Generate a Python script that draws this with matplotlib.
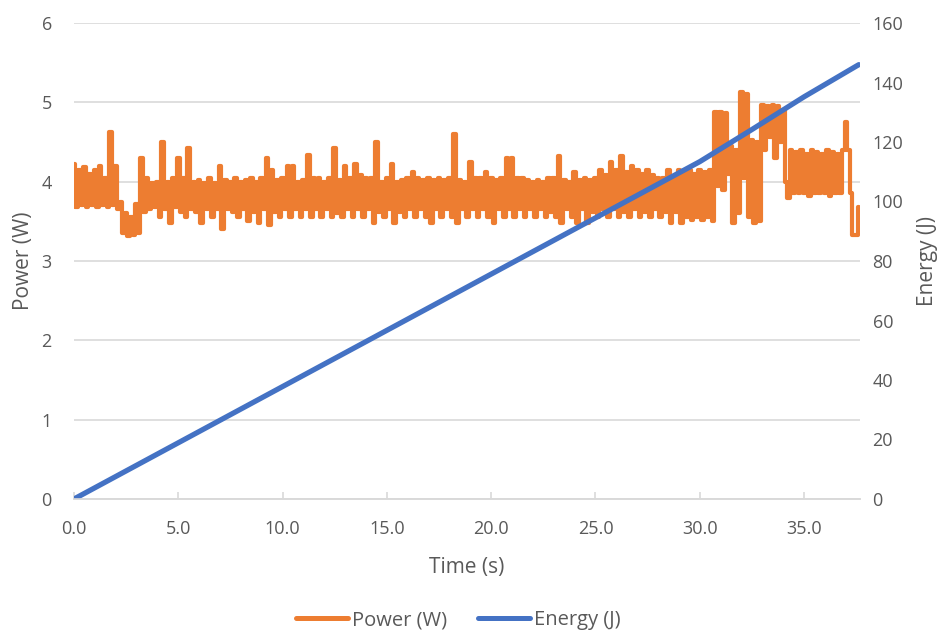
import numpy as np
import matplotlib
matplotlib.use("Agg")
import matplotlib.pyplot as plt
from matplotlib.lines import Line2D

plt.rcParams['font.family'] = ['Open Sans', 'DejaVu Sans']

# Power samples every 0.125 s
sample_dt = 0.125
power = [
    4.22, 3.68, 4.15, 3.70, 4.18, 3.68, 4.10, 3.70,
    4.15, 3.68, 4.20, 3.70, 4.05, 3.68, 4.62, 3.70,
    4.20, 3.65, 3.75, 3.35, 3.60, 3.32, 3.55, 3.33,
    3.72, 3.35, 4.30, 3.62, 4.05, 3.65, 3.98, 3.68,
    4.00, 3.55, 4.50, 3.65, 4.00, 3.48, 4.05, 3.68,
    4.30, 3.62, 4.05, 3.55, 4.42, 3.65, 4.00, 3.62,
    4.02, 3.48, 3.98, 3.66, 4.05, 3.55, 3.98, 3.66,
    4.20, 3.40, 4.02, 3.66, 4.00, 3.62, 4.05, 3.55,
    4.00, 3.66, 4.02, 3.50, 4.05, 3.62, 4.00, 3.48,
    4.05, 3.66, 4.30, 3.45, 4.15, 3.62, 4.02, 3.55,
    4.05, 3.66, 4.20, 3.55, 4.20, 3.66, 4.00, 3.55,
    4.02, 3.66, 4.33, 3.55, 4.05, 3.66, 4.05, 3.55,
    4.00, 3.66, 4.05, 3.55, 4.42, 3.60, 4.02, 3.55,
    4.20, 3.66, 4.05, 3.55, 4.22, 3.66, 4.08, 3.55,
    4.05, 3.66, 4.05, 3.48, 4.50, 3.62, 4.00, 3.55,
    4.05, 3.66, 4.22, 3.48, 4.00, 3.62, 4.02, 3.55,
    4.05, 3.66, 4.12, 3.55, 4.05, 3.66, 4.02, 3.55,
    4.05, 3.48, 4.02, 3.66, 4.05, 3.55, 4.02, 3.66,
    4.05, 3.55, 4.60, 3.48, 4.02, 3.66, 4.00, 3.55,
    4.25, 3.66, 4.05, 3.55, 4.05, 3.66, 4.12, 3.55,
    4.05, 3.48, 4.02, 3.66, 4.05, 3.55, 4.30, 3.66,
    4.30, 3.55, 4.05, 3.66, 4.05, 3.55, 4.02, 3.66,
    4.00, 3.55, 4.02, 3.66, 4.00, 3.55, 4.05, 3.62,
    4.05, 3.55, 4.32, 3.48, 4.02, 3.66, 4.00, 3.55,
    4.12, 3.48, 4.02, 3.66, 4.05, 3.48, 4.02, 3.62,
    4.05, 3.55, 4.15, 3.66, 4.08, 3.55, 4.25, 3.66,
    4.15, 3.55, 4.32, 3.62, 4.12, 3.55, 4.20, 3.66,
    4.15, 3.55, 4.10, 3.62, 4.15, 3.55, 4.08, 3.66,
    4.05, 3.55, 4.05, 3.62, 4.15, 3.48, 4.05, 3.62,
    4.15, 3.48, 4.12, 3.55, 4.15, 3.52, 4.10, 3.55,
    4.15, 3.52, 4.12, 3.55, 4.15, 3.50, 4.88, 3.95,
    4.88, 3.90, 4.87, 4.10, 4.45, 3.48, 4.40, 3.60,
    5.13, 4.05, 5.10, 3.55, 4.52, 3.48, 4.50, 3.50,
    4.97, 4.40, 4.95, 4.56, 4.97, 4.30, 4.95, 4.50,
    4.90, 4.00, 3.80, 4.40, 3.86, 4.38, 3.86, 4.40,
    3.86, 4.35, 3.82, 4.40, 3.86, 4.38, 3.86, 4.35,
    3.86, 4.40, 3.82, 4.38, 3.86, 4.35, 3.86, 4.40,
    4.75, 4.40, 3.86, 3.33, 3.33, 3.68,
]
time_power = np.arange(len(power)) * sample_dt

# Energy (J)
time_energy = [0.0, 2.5, 5.0, 7.5, 10.0, 12.5, 15.0, 17.5, 20.0, 22.5,
               25.0, 27.5, 30.0, 32.5, 35.0, 37.5, 37.625]
energy = [0.0, 9.45, 18.9, 28.35, 37.8, 47.25, 56.7, 66.15, 75.6, 85.05,
          94.5, 103.95, 113.4, 124.2, 135.2, 145.5, 146.0]

x_ticks = [0, 5, 10, 15, 20, 25, 30, 35]
x_tick_labels = ["0.0", "5.0", "10.0", "15.0", "20.0", "25.0", "30.0", "35.0"]
power_ticks = [0, 1, 2, 3, 4, 5, 6]
energy_ticks = [0, 20, 40, 60, 80, 100, 120, 140, 160]

orange = "#ED7D31"
blue = "#4472C4"
txt = "#595959"
grid = "#D9D9D9"

fig = plt.figure(figsize=(9.39, 6.31), dpi=100)
ax = fig.add_axes([74/939, 1 - 499/631, (860-74)/939, (499-23)/631])
ax2 = ax.twinx()

ax.plot(time_power, power, color=orange, lw=3.0, drawstyle='steps-mid',
        solid_joinstyle='round', solid_capstyle='round')
ax2.plot(time_energy, energy, color=blue, lw=3.8, solid_capstyle='round')

ax.set_xlim(0, 37.68)
ax.set_ylim(0, 6)
ax2.set_ylim(0, 160)

ax.set_xticks(x_ticks)
ax.set_xticklabels(x_tick_labels)
ax.set_yticks(power_ticks)
ax2.set_yticks(energy_ticks)

ax.yaxis.grid(True, color=grid, lw=1.2)
ax.set_axisbelow(True)

for a in (ax, ax2):
    for s in ("top", "left", "right"):
        a.spines[s].set_visible(False)
    a.spines["bottom"].set_color(grid)
    a.spines["bottom"].set_linewidth(1.2)
    a.tick_params(colors=txt, labelsize=13)

ax.tick_params(axis='y', length=0, pad=16)
ax2.tick_params(axis='y', length=0, pad=9)
ax.tick_params(axis='x', direction='in', length=5, color=grid, width=1.2, pad=15)

ax.set_xlabel("Time (s)", fontsize=15, color=txt, labelpad=14)
ax.set_ylabel("Power (W)", fontsize=15, color=txt, labelpad=5)
ax2.set_ylabel("Energy (J)", fontsize=15, color=txt, labelpad=10)

handles = [Line2D([], [], color=orange, lw=3.6, solid_capstyle='round'),
           Line2D([], [], color=blue, lw=3.6, solid_capstyle='round')]
fig.legend(handles, ["Power (W)", "Energy (J)"], loc="center",
           bbox_to_anchor=(0.488, 0.017), ncol=2, frameon=False,
           fontsize=14.5, handlelength=2.6, handletextpad=0.2,
           columnspacing=1.5, labelcolor=txt)

fig.savefig("out.png", dpi=100)
